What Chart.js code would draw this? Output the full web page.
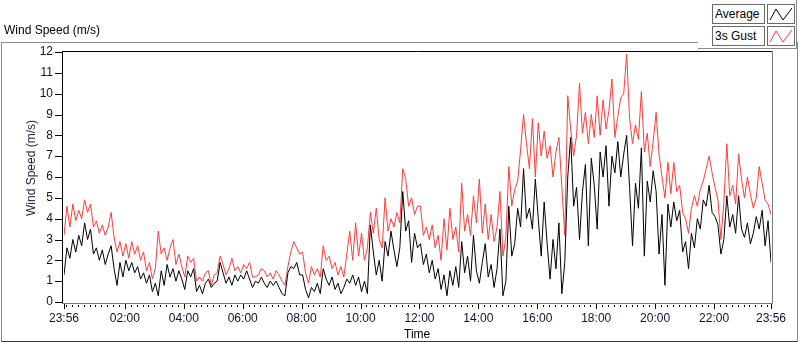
<!DOCTYPE html>
<html>
<head>
<meta charset="utf-8">
<script src="https://cdn.jsdelivr.net/npm/chart.js@4.4.0/dist/chart.umd.min.js"></script>
<style>
  body { margin: 0; background: #fff; font-family: "Liberation Sans", Arial, sans-serif; }
  #wrap { position: relative; width: 800px; height: 342px; overflow: hidden; }
  #frame { position: absolute; left: 1px; top: 42px; width: 795px; height: 298px;
           border: 1px solid #8a8a8a; border-bottom-color: #3c3c3c; }
  #chart { position: absolute; left: 0; top: 0; }
  .txt { position: absolute; font-size: 12px; color: #000; white-space: nowrap; }
  #title { left: 4px; top: 23px; }
  #ytitle { left: 31px; top: 168px; color: #1c1c40; transform: translate(-50%, -50%) rotate(-90deg); }
  #xtitle { left: 404px; top: 327px; }
  #legend { position: absolute; left: 698px; top: 0; width: 98px; height: 48px; background: #fff;
            border-right: 1px solid #8a8a8a; border-bottom: 1px solid #8a8a8a; }
  .lbox { position: absolute; left: 14px; width: 49px; height: 18px; border: 1px solid #6a6a6a;
          font-size: 12px; line-height: 18px; padding-left: 2px; box-sizing: content-box; }
  .ibox { position: absolute; left: 69px; width: 26px; height: 18px; border: 1px solid #6a6a6a; }
</style>
</head>
<body>
<div id="wrap">
  <div id="frame"></div>
  <canvas id="chart" width="800" height="342"></canvas>
  <div class="txt" id="title">Wind Speed (m/s)</div>
  <div class="txt" id="ytitle">Wind Speed (m/s)</div>
  <div class="txt" id="xtitle">Time</div>
  <div id="legend">
    <div class="lbox" style="top:4px">Average</div>
    <div class="ibox" style="top:4px"><svg width="26" height="18"><polyline points="2,15 8,4 15,15 24,3" fill="none" stroke="#000" stroke-width="1"/></svg></div>
    <div class="lbox" style="top:26px">3s Gust</div>
    <div class="ibox" style="top:26px"><svg width="26" height="18"><polyline points="2,15 8,4 15,15 24,3" fill="none" stroke="#ff3c3c" stroke-width="1"/></svg></div>
  </div>
</div>
<script>
// samples every 6 minutes, starting 23:56
const sampleStep = 6;

const avgSpeed = [
  1.3, 2.6, 2.1, 3.0, 2.4, 3.2, 2.7, 3.8, 3.0, 3.5,
  2.3, 2.6, 2.0, 2.5, 1.8, 2.3, 2.7, 1.6, 0.8, 1.9,
  1.2, 2.0, 1.5, 1.9, 1.4, 1.7, 1.1, 1.4, 0.9, 1.3,
  0.5, 0.9, 0.3, 1.5, 0.8, 1.8, 1.2, 1.6, 1.0, 1.5,
  1.1,
  0.6, 1.5, 1.2, 1.6, 0.5, 0.8, 0.4, 0.9, 1.1, 0.7,
  0.9, 1.0, 1.9, 1.4, 0.9, 1.2, 0.8, 1.3, 1.0, 1.3,
  1.1, 1.5, 1.1, 0.7, 1.0, 0.9, 1.2, 0.9, 0.7, 1.0,
  0.8, 1.0, 0.7, 0.4, 0.3, 1.4, 1.7, 1.6, 1.9, 1.3,
  1.3, 0.6, 0.2, 0.7, 0.5, 0.9, 0.4, 1.6, 1.1, 0.8,
  1.2, 0.6, 0.9, 0.4, 0.7, 1.1, 0.9, 1.3, 0.8, 1.2,
  0.5, 1.0, 0.4, 3.7, 2.4, 1.3, 2.0, 1.0, 2.9, 2.2,
  3.4, 2.5, 1.7, 2.6, 5.3, 3.4, 3.9, 1.9, 3.3, 2.6,
  2.8, 1.8, 2.3, 1.4, 2.0, 1.1, 1.6, 0.6, 1.3, 0.3,
  1.5, 0.8, 1.7, 0.7, 2.9, 1.4, 2.2, 1.0, 3.2, 1.5,
  0.9, 1.9, 2.8, 1.2, 1.8, 0.7, 1.6, 3.5, 0.3, 1.0,
  4.6, 2.2, 2.8, 4.5, 3.6, 6.4, 4.0, 4.5, 3.5, 5.9,
  4.0, 2.2, 4.8, 2.8, 1.1, 3.0, 1.6, 3.8, 0.4, 1.9,
  6.0, 7.9, 4.6, 5.5, 3.0, 5.3, 6.6, 2.7, 6.9, 5.6,
  3.5, 7.2, 6.0, 7.5, 4.6, 7.0, 6.2, 7.7, 6.0, 7.1,
  8.0, 5.5, 2.7, 5.7, 4.5, 7.4, 2.2, 5.8, 4.8, 6.3,
  5.3, 2.3, 4.2, 0.8, 4.7, 3.6, 4.8, 3.9, 4.4, 2.4,
  2.9, 1.6, 3.3, 2.6, 4.0, 3.5, 4.9, 4.6, 5.6, 4.3,
  4.1, 3.7, 2.3, 3.0, 5.1, 3.6, 4.2, 3.3, 5.1, 3.5,
  3.1, 3.8, 2.8, 3.3, 4.1, 3.5, 4.4, 2.7, 3.9, 1.9
];

const gustSpeed = [
  3.2, 4.6, 3.6, 4.7, 3.9, 4.4, 4.0, 4.9, 4.3, 4.7,
  3.6, 3.9, 3.3, 3.7, 3.2, 3.6, 4.3, 3.1, 2.4, 2.9,
  2.2, 2.8, 2.1, 2.9, 2.3, 2.7, 2.0, 2.4, 1.5, 1.9,
  1.1, 1.6, 3.4, 2.3, 2.6, 2.0, 2.6, 3.0, 1.8, 2.3,
  1.7,
  1.2, 2.2, 1.9, 2.1, 1.0, 1.2, 1.0, 1.4, 1.5, 0.8,
  1.3, 1.4, 2.2, 1.8, 1.3, 1.6, 2.1, 1.5, 1.7, 1.4,
  1.8, 1.6, 1.9, 1.2, 1.2, 1.3, 1.6, 1.5, 1.2, 1.4,
  1.1, 1.5, 1.3, 1.0, 0.8, 1.7, 2.4, 2.9, 2.6, 2.3,
  2.4, 1.4, 0.9, 1.7, 1.3, 1.6, 1.2, 2.7, 2.0, 2.2,
  1.6, 1.9, 1.3, 1.7, 1.2, 2.3, 3.4, 2.0, 3.8, 2.2,
  3.3, 2.0, 2.6, 4.3, 3.3, 4.5, 3.0, 2.6, 5.0, 3.4,
  4.0, 3.6, 4.3, 3.8, 6.4, 5.9, 4.6, 5.0, 4.2, 4.6,
  4.6, 3.2, 3.6, 3.0, 3.7, 2.6, 3.2, 2.0, 4.0, 2.5,
  4.5, 3.0, 3.6, 2.4, 5.7, 3.4, 4.2, 3.2, 5.1, 3.8,
  5.9, 3.3, 4.7, 3.0, 4.2, 2.9, 3.6, 5.3, 2.2, 3.1,
  6.5, 4.6, 5.4, 5.8, 7.3, 9.0, 7.6, 6.4, 8.8, 6.0,
  8.6, 7.0, 8.2, 6.9, 7.5, 6.0, 7.2, 7.9, 5.5, 3.2,
  9.9, 8.3, 7.0, 8.0, 10.5, 8.1, 9.1, 7.6, 9.0, 7.9,
  9.9, 8.0, 9.7, 8.3, 9.2, 10.7, 7.9, 8.9, 9.8, 10.0,
  11.9, 8.8, 7.6, 8.5, 7.8, 10.1, 7.2, 8.1, 6.5, 7.7,
  9.1, 7.1, 6.0, 5.0, 6.7, 5.2, 6.7, 5.3, 5.6, 4.3,
  4.0, 3.3, 4.5, 5.1, 4.6, 5.4, 5.8, 6.4, 7.0, 6.2,
  5.5, 4.9, 3.0, 4.8, 7.6, 5.1, 5.6, 4.7, 7.1, 5.9,
  5.0, 6.0, 5.2, 4.5, 5.0, 6.5, 5.7, 4.9, 4.7, 4.2
];

// x tick positions (minutes after 23:56) and their labels
const tickMinutes = [0, 124, 244, 364, 484, 604, 724, 844, 964, 1084, 1204, 1324, 1440];
const tickLabels = ['23:56', '02:00', '04:00', '06:00', '08:00', '10:00', '12:00',
                    '14:00', '16:00', '18:00', '20:00', '22:00', '23:56'];
const minorTickStart = 4;   // 00:00
const minorTickStep = 12;

const toPoints = arr => arr.map((v, i) => ({ x: i * sampleStep, y: v }));

// frame around the plot area plus LabVIEW style tick marks
const plotFrame = {
  id: 'plotFrame',
  afterDraw(chart) {
    const { ctx, chartArea: a, scales: { x, y } } = chart;
    ctx.save();
    ctx.lineWidth = 1;
    ctx.strokeStyle = '#000';
    ctx.beginPath();
    ctx.moveTo(62.5, 303.5);
    ctx.lineTo(62.5, a.top - 0.5);
    ctx.lineTo(772.5, a.top - 0.5);
    ctx.stroke();
    ctx.strokeStyle = '#7a7a7a';
    ctx.beginPath();
    ctx.moveTo(772.5, a.top - 0.5);
    ctx.lineTo(772.5, 303.5);
    ctx.lineTo(62, 303.5);
    ctx.stroke();

    ctx.strokeStyle = '#000';
    ctx.beginPath();
    for (let v = 0; v <= 12; v++) {
      const py = Math.round(y.getPixelForValue(v)) + 0.5;
      ctx.moveTo(55, py);
      ctx.lineTo(62, py);
    }
    tickMinutes.forEach(m => {
      const px = Math.round(x.getPixelForValue(m)) + 0.5;
      ctx.moveTo(px, 304);
      ctx.lineTo(px, 309);
    });
    for (let m = minorTickStart; m < 1440; m += minorTickStep) {
      const px = Math.round(x.getPixelForValue(m)) + 0.5;
      ctx.moveTo(px, 305);
      ctx.lineTo(px, 307);
    }
    ctx.stroke();
    ctx.restore();
  }
};

const ctx = document.getElementById('chart').getContext('2d');
const windChart = new Chart(ctx, {
  type: 'line',
  data: {
    datasets: [
      {
        label: 'Average',
        data: toPoints(avgSpeed),
        borderColor: '#000000',
        borderWidth: 1,
        pointRadius: 0,
        tension: 0
      },
      {
        label: '3s Gust',
        data: toPoints(gustSpeed),
        borderColor: '#ff3c3c',
        borderWidth: 1,
        pointRadius: 0,
        tension: 0
      }
    ]
  },
  options: {
    responsive: false,
    devicePixelRatio: 1,
    animation: false,
    layout: { padding: { top: 52, right: 29, bottom: 0, left: 0 } },
    plugins: {
      legend: { display: false },
      tooltip: { enabled: false }
    },
    scales: {
      x: {
        type: 'linear',
        min: 0,
        max: 1440,
        afterFit: scale => { scale.height = 40; },
        afterBuildTicks: axis => { axis.ticks = tickMinutes.map(v => ({ value: v })); },
        grid: { display: false, drawTicks: false },
        border: { display: false },
        ticks: {
          autoSkip: false,
          maxRotation: 0,
          padding: 9,
          color: '#101030',
          font: { family: 'Liberation Sans', size: 12 },
          callback: (value, index) => tickLabels[index]
        }
      },
      y: {
        min: 0,
        max: 12,
        afterFit: scale => { scale.width = 64; },
        grid: { display: false, drawTicks: false },
        border: { display: false },
        ticks: {
          stepSize: 1,
          padding: 11,
          color: '#101030',
          font: { family: 'Liberation Sans', size: 12 }
        }
      }
    }
  },
  plugins: [plotFrame]
});
</script>
</body>
</html>
